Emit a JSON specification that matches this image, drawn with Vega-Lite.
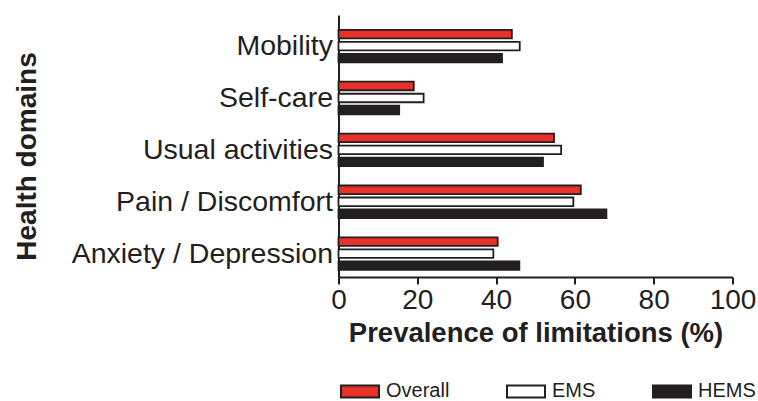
{
  "$schema": "https://vega.github.io/schema/vega-lite/v6.json",
  "autosize": {"type": "none"},
  "width": 394,
  "height": 262,
  "padding": {"left": 338.5, "top": 15, "right": 25.5, "bottom": 124},
  "background": "white",
  "config": {
    "font": "Liberation Sans",
    "view": {"stroke": null},
    "axis": {"grid": false, "domainColor": "#231F20", "tickColor": "#231F20", "labelColor": "#231F20", "titleColor": "#231F20"}
  },
  "data": {
    "values": [
      {"domain": "Mobility", "group": "Overall", "value": 44.0},
      {"domain": "Mobility", "group": "EMS", "value": 46.0},
      {"domain": "Mobility", "group": "HEMS", "value": 41.5},
      {"domain": "Self-care", "group": "Overall", "value": 19.1},
      {"domain": "Self-care", "group": "EMS", "value": 21.6},
      {"domain": "Self-care", "group": "HEMS", "value": 15.4},
      {"domain": "Usual activities", "group": "Overall", "value": 54.7},
      {"domain": "Usual activities", "group": "EMS", "value": 56.5},
      {"domain": "Usual activities", "group": "HEMS", "value": 51.9},
      {"domain": "Pain / Discomfort", "group": "Overall", "value": 61.5},
      {"domain": "Pain / Discomfort", "group": "EMS", "value": 59.6},
      {"domain": "Pain / Discomfort", "group": "HEMS", "value": 68.0},
      {"domain": "Anxiety / Depression", "group": "Overall", "value": 40.4},
      {"domain": "Anxiety / Depression", "group": "EMS", "value": 39.3},
      {"domain": "Anxiety / Depression", "group": "HEMS", "value": 45.9}
    ]
  },
  "mark": {"type": "bar", "stroke": "#231F20", "strokeWidth": 1.8},
  "encoding": {
    "y": {
      "field": "domain",
      "type": "nominal",
      "sort": ["Mobility", "Self-care", "Usual activities", "Pain / Discomfort", "Anxiety / Depression"],
      "scale": {"paddingInner": 0.345, "paddingOuter": 0.197, "align": 0.69},
      "axis": {
        "title": "Health domains",
        "titleFontSize": 28,
        "titleFontWeight": "bold",
        "titleX": -303.5,
        "titleY": 141,
        "titleAngle": -90,
        "titleAlign": "center",
        "titleBaseline": "alphabetic",
        "labelFontSize": 28.5,
        "labelLimit": 400,
        "labelPadding": 6,
        "ticks": false,
        "domainWidth": 2
      }
    },
    "yOffset": {
      "field": "group",
      "type": "nominal",
      "sort": ["Overall", "EMS", "HEMS"],
      "scale": {"paddingInner": 0.29, "paddingOuter": 0.06}
    },
    "x": {
      "field": "value",
      "type": "quantitative",
      "scale": {"domain": [0, 100], "nice": false},
      "axis": {
        "title": "Prevalence of limitations (%)",
        "titleFontSize": 27.5,
        "titleFontWeight": "bold",
        "titlePadding": 5,
        "values": [0, 20, 40, 60, 80, 100],
        "labelFontSize": 28,
        "labelPadding": 2,
        "labelFlush": false,
        "tickSize": 7,
        "tickWidth": 2,
        "domainWidth": 2
      }
    },
    "fill": {
      "field": "group",
      "type": "nominal",
      "sort": ["Overall", "EMS", "HEMS"],
      "scale": {"domain": ["Overall", "EMS", "HEMS"], "range": ["#E8312A", "#FFFFFF", "#231F20"]},
      "legend": {
        "title": null,
        "orient": "none",
        "legendX": 1.5,
        "legendY": 356,
        "direction": "horizontal",
        "columns": 3,
        "columnPadding": 53,
        "symbolType": "M-1,-0.316H1V0.316H-1Z",
        "symbolSize": 1444,
        "symbolStrokeColor": "#231F20",
        "symbolStrokeWidth": 2,
        "labelFontSize": 20,
        "labelColor": "#231F20",
        "labelOffset": 6
      }
    }
  }
}
